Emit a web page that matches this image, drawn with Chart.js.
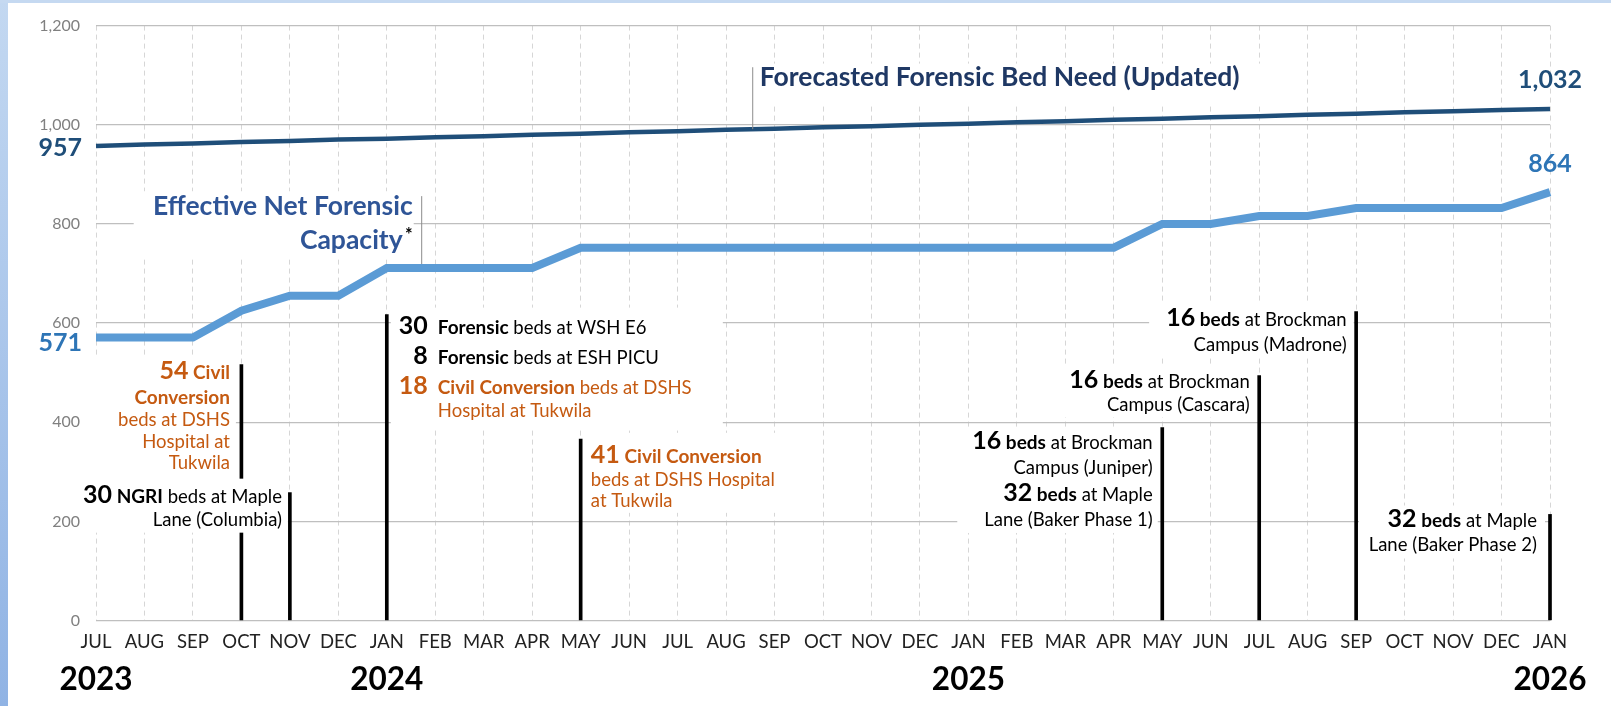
<!DOCTYPE html>
<html>
<head>
<meta charset="utf-8">
<script src="https://cdn.jsdelivr.net/npm/chart.js@4.4.1/dist/chart.umd.min.js"></script>
<style>
  html, body { margin: 0; padding: 0; background: #fff; }
  #wrap { position: relative; width: 1611px; height: 706px; overflow: hidden; background: #fff; }
  .edge-left { position: absolute; left: 0; top: 0; width: 8px; height: 706px; background: linear-gradient(#c3d8f1, #90b3e4); }
  .edge-top { position: absolute; left: 0; top: 0; width: 1611px; height: 3px; background: #c5d9f1; }
  canvas { position: absolute; left: 0; top: 0; }
</style>
</head>
<body>
<div id="wrap">
  <div class="edge-left"></div>
  <div class="edge-top"></div>
  <canvas id="myChart" width="1611" height="706"></canvas>
</div>
<script>
const months = ["JUL","AUG","SEP","OCT","NOV","DEC","JAN","FEB","MAR","APR","MAY","JUN",
                "JUL","AUG","SEP","OCT","NOV","DEC","JAN","FEB","MAR","APR","MAY","JUN",
                "JUL","AUG","SEP","OCT","NOV","DEC","JAN"];
const years = ["2023","","","","","","2024","","","","","","","","","","","","2025","","","","","","","","","","","","2026"];

// forecasted forensic bed need (updated)
const forecastNeed = [957,960,962,965,967,970,972,975,977,980,982,985,987,990,992,995,
                      997,1000,1002,1005,1007,1010,1012,1015,1017,1020,1022,1025,1027,1030,1032];
// effective net forensic capacity
const netCapacity = [571,571,571,625,655,655,711,711,711,711,752,752,752,752,752,752,
                     752,752,752,752,752,752,800,800,816,816,832,832,832,832,864];
// height of the black marker line under each bed opening
const openingTops = [null,null,null,516,258,null,617,null,null,null,366,null,null,null,null,null,
                     null,null,null,null,null,null,389,null,494,null,623,null,null,null,214];

const ORANGE = "#C55A11";
const BLACK = "#000";

// callouts for the bed openings
const notes = [
  { at: 3, v: 486.5, align: "right", dx: -11.4, gaps: [0, 25, 47, 69, 90], box: [-147, -22, -5.5, 100], color: ORANGE,
    lines: [[["N","54"],["B"," Civil"]], [["B","Conversion"]], [["R","beds at DSHS"]], [["R","Hospital at"]], [["R","Tukwila"]]] },
  { at: 4, v: 237.7, align: "right", dx: -7.9, gaps: [0, 23], box: [-206, -24, -2, 30], color: BLACK,
    lines: [[["N","30"],["B"," NGRI"],["R"," beds at Maple"]], [["R","Lane (Columbia)"]]] },
  { at: 6, v: 578.7, align: "split", dx: 41, gaps: [0, 30, 60, 83], box: [4, -26, 336, 95], color: BLACK,
    lines: [
      { num: "30", runs: [["B","Forensic"],["R"," beds at WSH E6"]] },
      { num: "8", runs: [["B","Forensic"],["R"," beds at ESH PICU"]] },
      { num: "18", color: ORANGE, runs: [["B","Civil Conversion"],["R"," beds at DSHS"]] },
      { num: "", color: ORANGE, runs: [["R","Hospital at Tukwila"]] }
    ] },
  { at: 10, v: 318, align: "left", dx: 10.2, gaps: [0, 23, 44], box: [4.5, -30, 196, 50], color: ORANGE,
    lines: [[["N","41"],["B"," Civil Conversion"]], [["R","beds at DSHS Hospital"]], [["R","at Tukwila"]]] },
  { at: 22, v: 346, align: "right", dx: -9.6, gaps: [0, 25, 52, 77], box: [-205, -20, -4.5, 84], color: BLACK,
    lines: [[["N","16"],["B"," beds"],["R"," at Brockman"]], [["R","Campus (Juniper)"]],
            [["N","32"],["B"," beds"],["R"," at Maple"]], [["R","Lane (Baker Phase 1)"]]] },
  { at: 24, v: 468.4, align: "right", dx: -9.5, gaps: [0, 23], box: [-220, -23, -3.5, 29], color: BLACK,
    lines: [[["N","16"],["B"," beds"],["R"," at Brockman"]], [["R","Campus (Cascara)"]]] },
  { at: 26, v: 594.8, align: "right", dx: -9.5, gaps: [0, 25], box: [-207, -23, -2.5, 32], color: BLACK,
    lines: [[["N","16"],["B"," beds"],["R"," at Brockman"]], [["R","Campus (Madrone)"]]] },
  { at: 30, v: 187.6, align: "right", dx: -13, gaps: [0, 24], box: [-191, -22, -5, 31], color: BLACK,
    lines: [[["N","32"],["B"," beds"],["R"," at Maple"]], [["R","Lane (Baker Phase 2)"]]] }
];

const fontOf = s => s === "N" ? "bold 25px Lato" : s === "B" ? "bold 19px Lato" : "18.5px Lato";

function runsWidth(ctx, runs) {
  let w = 0;
  for (const [s, t] of runs) { ctx.font = fontOf(s); w += ctx.measureText(t).width; }
  return w;
}

function drawRuns(ctx, runs, x, y, color) {
  ctx.textAlign = "left";
  for (const [s, t] of runs) {
    ctx.font = fontOf(s);
    ctx.fillStyle = color;
    ctx.fillText(t, x, y);
    x += ctx.measureText(t).width;
  }
}

const fmt = n => n.toLocaleString("en-US");

const notesPlugin = {
  id: "notes",
  afterDatasetsDraw(chart) {
    const { ctx, scales: { x, y } } = chart;
    ctx.save();
    ctx.textBaseline = "alphabetic";

    // forecast label anchor
    const fAt = 13.55;
    const fVal = forecastNeed[13] + (forecastNeed[14] - forecastNeed[13]) * 0.55;
    const fx = x.getPixelForValue(fAt);
    const fBase = y.getPixelForValue(1079);
    // capacity label anchor
    const cx = x.getPixelForValue(6.72);
    const cBase = y.getPixelForValue(817.5);

    // white boxes behind the texts
    ctx.fillStyle = "#fff";
    notes.forEach(n => {
      const ax = x.getPixelForValue(n.at), by = y.getPixelForValue(n.v);
      ctx.fillRect(ax + n.box[0], by + n.box[1], n.box[2] - n.box[0], n.box[3] - n.box[1]);
    });
    ctx.fillRect(fx + 3, fBase - 22, 508, 42);
    ctx.fillRect(cx - 288, cBase - 24, 280, 68);

    // callout texts
    notes.forEach(n => {
      const ax = x.getPixelForValue(n.at) + n.dx;
      const by = y.getPixelForValue(n.v);
      n.lines.forEach((ln, i) => {
        const yy = by + n.gaps[i];
        if (n.align === "split") {
          const c = ln.color || n.color;
          ctx.font = fontOf("N");
          ctx.textAlign = "right";
          ctx.fillStyle = c;
          ctx.fillText(ln.num, ax, yy);
          drawRuns(ctx, ln.runs, ax + 10, yy, c);
        } else if (n.align === "right") {
          drawRuns(ctx, ln, ax - runsWidth(ctx, ln), yy, n.color);
        } else {
          drawRuns(ctx, ln, ax, yy, n.color);
        }
      });
    });

    // leader lines
    ctx.strokeStyle = "#8c8c8c";
    ctx.lineWidth = 1;
    ctx.beginPath();
    ctx.moveTo(fx, y.getPixelForValue(fVal));
    ctx.lineTo(fx, y.getPixelForValue(1116));
    ctx.moveTo(cx, y.getPixelForValue(netCapacity[6]) - 4);
    ctx.lineTo(cx, y.getPixelForValue(856));
    ctx.stroke();

    // series labels
    ctx.textAlign = "left";
    ctx.font = "bold 26.5px Lato";
    ctx.fillStyle = "#1F3864";
    ctx.fillText("Forecasted Forensic Bed Need (Updated)", fx + 7, fBase);

    ctx.textAlign = "right";
    ctx.font = "bold 26.5px Lato";
    ctx.fillStyle = "#2F5597";
    ctx.fillText("Effective Net Forensic", cx - 9, cBase);
    ctx.font = "bold 18px Lato";
    ctx.fillStyle = "#000";
    ctx.fillText("*", cx - 9, cBase + 26);
    ctx.font = "bold 26.5px Lato";
    ctx.fillStyle = "#2F5597";
    ctx.fillText("Capacity", cx - 19, cBase + 34);

    // start / end values
    const last = months.length - 1;
    ctx.font = "bold 25px Lato";
    ctx.textAlign = "right";
    ctx.fillStyle = "#1F4E79";
    ctx.fillText(fmt(forecastNeed[0]), x.left - 14, y.getPixelForValue(forecastNeed[0]) + 9.5);
    ctx.fillStyle = "#2E75B6";
    ctx.fillText(fmt(netCapacity[0]), x.left - 14, y.getPixelForValue(netCapacity[0]) + 14);
    ctx.textAlign = "center";
    ctx.fillStyle = "#1F4E79";
    ctx.fillText(fmt(forecastNeed[last]), x.getPixelForValue(last), y.getPixelForValue(forecastNeed[last]) - 21);
    ctx.fillStyle = "#2E75B6";
    ctx.fillText(fmt(netCapacity[last]), x.getPixelForValue(last), y.getPixelForValue(netCapacity[last]) - 20);

    ctx.restore();
  }
};

const ctx = document.querySelector("#myChart");

new Chart(ctx, {
  type: "line",
  data: {
    labels: months,
    datasets: [
      {
        label: "Forecasted Forensic Bed Need (Updated)",
        data: forecastNeed,
        borderColor: "#1F4E79",
        borderWidth: 4.5,
        pointRadius: 0,
        tension: 0,
        clip: false
      },
      {
        label: "Effective Net Forensic Capacity",
        data: netCapacity,
        borderColor: "#5B9BD5",
        borderWidth: 8,
        borderJoinStyle: "miter",
        pointRadius: 0,
        tension: 0,
        clip: false
      },
      {
        type: "bar",
        label: "Openings",
        data: openingTops,
        backgroundColor: "#000",
        barThickness: 3,
        clip: false
      }
    ]
  },
  options: {
    responsive: false,
    animation: false,
    devicePixelRatio: 1,
    layout: { padding: { left: 8, right: 61, top: 22, bottom: 0 } },
    plugins: { legend: { display: false }, tooltip: { enabled: false } },
    scales: {
      x: {
        offset: false,
        weight: 0,
        grid: { color: "#d6d6d6", lineWidth: 1, drawTicks: false, offset: false },
        border: { display: false, dash: [5, 4] },
        ticks: { color: "#222", font: { family: "Lato", size: 18.5 }, padding: 10, autoSkip: false, maxRotation: 0 },
        afterFit: s => { s.height = 38; }
      },
      x2: {
        type: "category",
        labels: years,
        position: "bottom",
        offset: false,
        weight: 1,
        grid: { display: false, drawTicks: false },
        border: { display: false },
        ticks: { color: "#000", font: { family: "Lato", size: 31.5, weight: "bold" }, padding: 2, autoSkip: false, maxRotation: 0 },
        afterFit: s => { s.height = 47.5; }
      },
      y: {
        min: 0,
        max: 1200,
        ticks: { stepSize: 200, color: "#808080", font: { family: "Lato", size: 16 }, padding: 16,
                 callback: v => fmt(v) },
        grid: { color: "#bfbfbf", lineWidth: 1.3, drawTicks: false },
        border: { display: false },
        afterFit: s => { s.width = 88; }
      }
    }
  },
  plugins: [notesPlugin]
});
</script>
</body>
</html>
